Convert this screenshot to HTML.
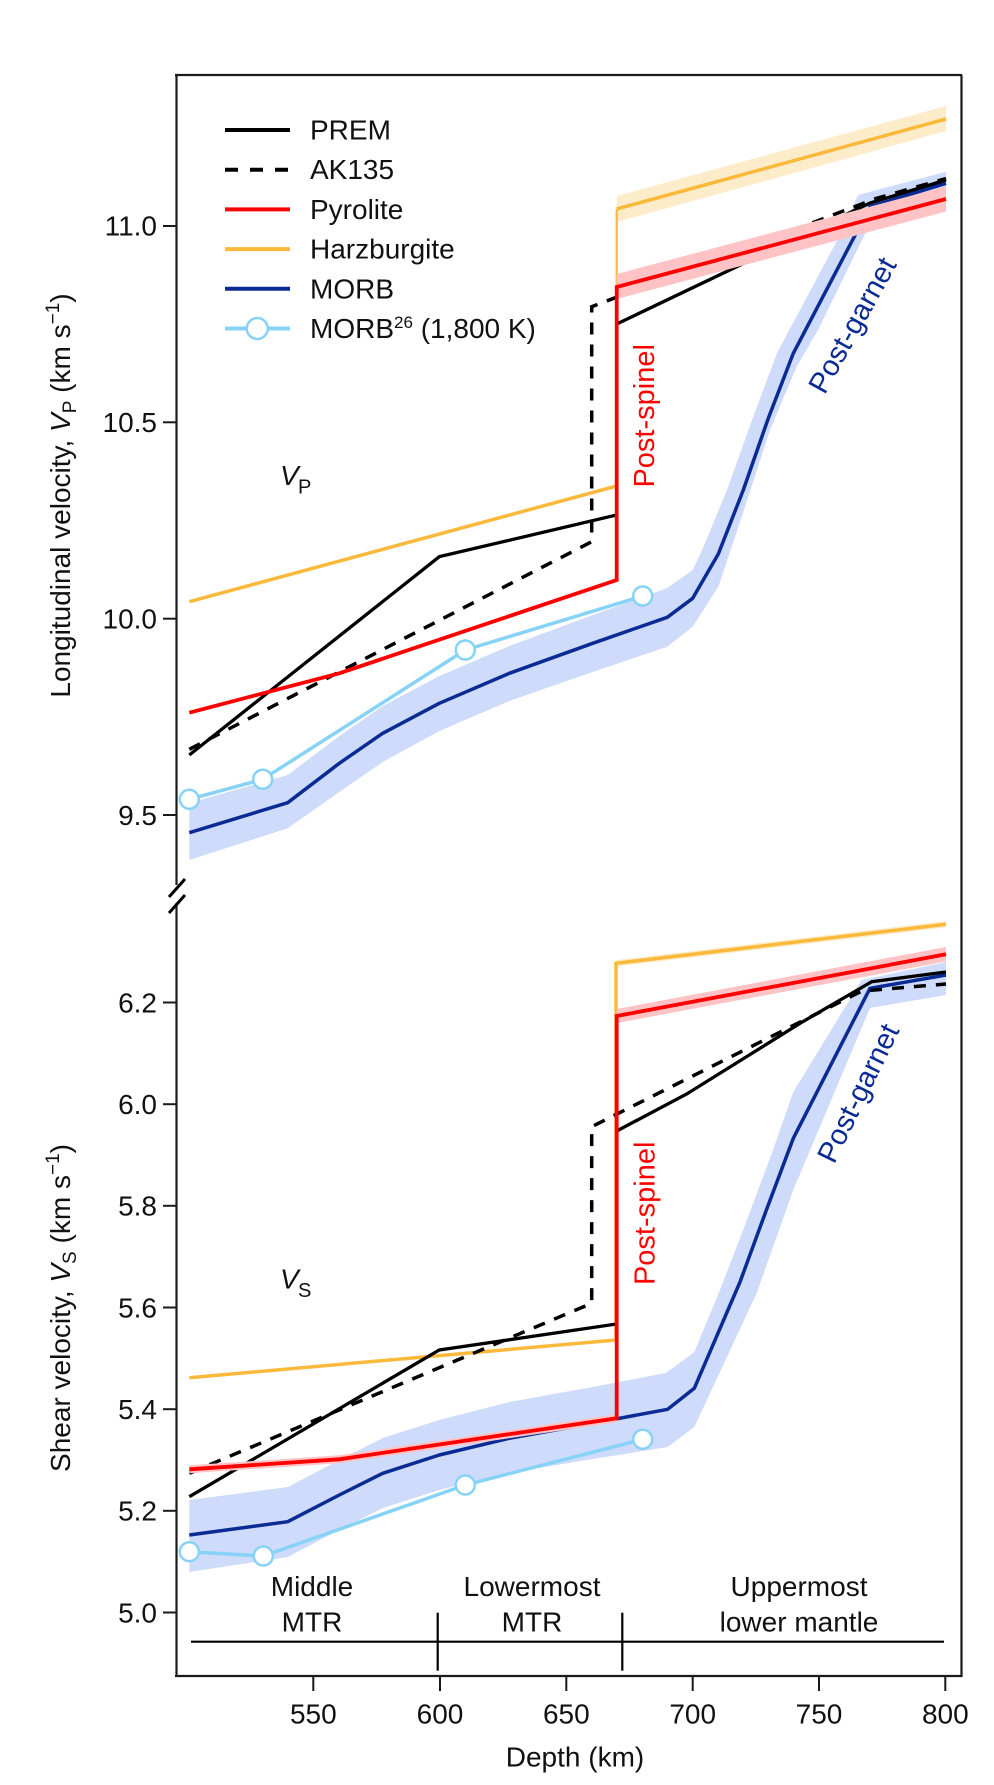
<!DOCTYPE html>
<html>
<head>
<meta charset="utf-8">
<style>
html,body{margin:0;padding:0;background:#fff;}
svg{display:block;}
text{font-family:"Liberation Sans", Arial, Helvetica, sans-serif;fill:#111;}
</style>
</head>
<body>
<svg width="994" height="1785" viewBox="0 0 994 1785" xmlns="http://www.w3.org/2000/svg">
<rect width="994" height="1785" fill="#fff"/>

<!-- ============ UPPER PANEL (Vp) ============ -->
<!-- MORB band -->
<polygon fill="#cfdbfa" points="189.3,803 287.7,775 339.3,736 382.7,706 439.3,676 509.3,646 592.7,615 667.3,588 692.7,570 703,548 727,490 752,420 777,353 808,295 840,235 858,195 946,171.7 946,195 880,218 866,232 818,330 796.7,366.7 770,430 743.3,512 718.3,586.7 692.7,626.7 667.3,646.7 592.7,672 509.3,701 439.3,731 382.7,762 339.3,792 287.7,828.3 189.3,860"/>
<!-- Harzburgite band -->
<polygon fill="#fdecc9" points="616.7,196 946,106 946,131 616.7,222"/>
<!-- Harzburgite -->
<polyline fill="none" stroke="#fbb93c" stroke-width="3.5" points="189.3,601.7 616.7,486"/>
<line x1="616.7" y1="486" x2="616.7" y2="209" stroke="#fbb93c" stroke-width="2.2"/>
<polyline fill="none" stroke="#fbb93c" stroke-width="3.5" points="616.7,209 946,119"/>
<!-- MORB26 -->
<polyline fill="none" stroke="#86d3f7" stroke-width="3.5" points="189.3,799.3 262.7,779.3 465.3,650 642.7,596"/>
<!-- MORB -->
<polyline fill="none" stroke="#0a2a94" stroke-width="3.5" stroke-linejoin="round" points="189.3,832.7 287.7,802.7 339.3,763.3 382.7,733.3 439.3,703.3 509.3,673.3 592.7,643.3 667.3,617.3 692.7,598.3 718.3,554 743.3,490 768.3,418.3 793.3,353.3 870,206.7 946,183.3"/>
<!-- PREM -->
<polyline fill="none" stroke="#000" stroke-width="3.3" points="189.3,755 439.3,556.7 616.7,515 616.7,324 870,203 946,180"/>
<!-- AK135 -->
<polyline fill="none" stroke="#000" stroke-width="3.5" stroke-dasharray="12 10" points="189.3,749.3 591.7,541.7 591.7,306.7 876.7,198.3 946,178.5"/>
<!-- Pyrolite band -->
<polygon fill="#ffc3c5" points="616.7,274 946,186.5 946,211.5 616.7,299"/>
<!-- Pyrolite -->
<polyline fill="none" stroke="#ff0000" stroke-width="3.8" points="189.3,712.7 339.3,673.3 616.7,580 616.7,287 946,199"/>
<!-- MORB26 circles -->
<g fill="#fff" stroke="#86d3f7" stroke-width="2.5">
<circle cx="189.3" cy="799.3" r="9.5"/>
<circle cx="262.7" cy="779.3" r="9.5"/>
<circle cx="465.3" cy="650" r="9.5"/>
<circle cx="642.7" cy="596" r="9.5"/>
</g>

<!-- ============ LOWER PANEL (Vs) ============ -->
<!-- MORB band -->
<polygon fill="#cfdbfa" points="189.3,1500 287.7,1487 339.3,1460 382.7,1438 439.3,1420 509.3,1402 592.7,1387 666,1373 694.3,1352 720,1290 745,1225 773,1150 793.3,1092 861.7,980 946,962 946,995 870,1008 793.3,1190 756.7,1293 720,1372 694.3,1427 667.7,1447 592.7,1459 509.3,1473 439.3,1490 382.7,1508 339.3,1530 287.7,1557 189.3,1572"/>
<!-- Harzburgite band -->
<polygon fill="#fdecc9" points="616,960 946,921 946,927.5 616,966.5"/>
<!-- Harzburgite -->
<polyline fill="none" stroke="#fbb93c" stroke-width="3.5" points="189.3,1377.7 616,1340 616,963.3 946,924.3"/>
<!-- MORB26 -->
<polyline fill="none" stroke="#86d3f7" stroke-width="3.5" points="189.3,1551.7 263.3,1556 465.3,1485 642.7,1439.3"/>
<!-- MORB -->
<polyline fill="none" stroke="#0a2a94" stroke-width="3.5" stroke-linejoin="round" points="189.3,1535 287.7,1521.7 339.3,1495 382.7,1473.3 439.3,1455 509.3,1438.3 592.7,1423.3 667.7,1409.3 694.3,1388.3 740,1282 766,1211 793.3,1138.3 870,988.3 946,975"/>
<!-- PREM -->
<polyline fill="none" stroke="#000" stroke-width="3.3" points="189.3,1496.7 439.3,1350 616.7,1324 616.7,1131 686.7,1094 800,1023.3 871.7,981.7 946,972"/>
<!-- AK135 -->
<polyline fill="none" stroke="#000" stroke-width="3.5" stroke-dasharray="12 10" points="189.3,1473.3 591.7,1303.3 591.7,1126.7 862,991 946,984"/>
<!-- Pyrolite band -->
<polygon fill="#ffc3c5" points="616.7,1009 946,947 946,961.5 616.7,1023"/>
<polygon fill="#ffc3c5" points="189.3,1465.3 339.3,1455.3 616.7,1414.3 616.7,1422.3 339.3,1463.3 189.3,1473.3"/>
<!-- Pyrolite -->
<polyline fill="none" stroke="#ff0000" stroke-width="3.8" points="189.3,1469.3 339.3,1459.3 616.7,1418.3 616.7,1016 946,954.3"/>
<!-- MORB26 circles -->
<g fill="#fff" stroke="#86d3f7" stroke-width="2.5">
<circle cx="189.3" cy="1551.7" r="9.5"/>
<circle cx="263.3" cy="1556" r="9.5"/>
<circle cx="465.3" cy="1485" r="9.5"/>
<circle cx="642.7" cy="1439.3" r="9.5"/>
</g>

<!-- ============ AXES ============ -->
<g stroke="#1a1a1a" stroke-width="2.2" fill="none">
<line x1="175" y1="75" x2="962" y2="75"/>
<line x1="961.5" y1="75" x2="961.5" y2="1677"/>
<line x1="176.5" y1="75" x2="176.5" y2="885"/>
<line x1="176.5" y1="903" x2="176.5" y2="1677"/>
<line x1="175" y1="1676" x2="962" y2="1676"/>
</g>
<!-- break marks -->
<g stroke="#000" stroke-width="3">
<line x1="169" y1="897" x2="185" y2="879"/>
<line x1="169" y1="913" x2="185" y2="895"/>
</g>
<!-- y ticks -->
<g stroke="#1a1a1a" stroke-width="2">
<line x1="163" y1="226" x2="176" y2="226"/>
<line x1="163" y1="422.3" x2="176" y2="422.3"/>
<line x1="163" y1="618.7" x2="176" y2="618.7"/>
<line x1="163" y1="815" x2="176" y2="815"/>
<line x1="163" y1="1002.5" x2="176" y2="1002.5"/>
<line x1="163" y1="1104.2" x2="176" y2="1104.2"/>
<line x1="163" y1="1205.8" x2="176" y2="1205.8"/>
<line x1="163" y1="1307.5" x2="176" y2="1307.5"/>
<line x1="163" y1="1409.2" x2="176" y2="1409.2"/>
<line x1="163" y1="1510.8" x2="176" y2="1510.8"/>
<line x1="163" y1="1612.5" x2="176" y2="1612.5"/>
</g>
<g font-size="28" text-anchor="end">
<text x="157" y="235.5">11.0</text>
<text x="157" y="432">10.5</text>
<text x="157" y="628.5">10.0</text>
<text x="157" y="825">9.5</text>
<text x="157" y="1012.5">6.2</text>
<text x="157" y="1114">6.0</text>
<text x="157" y="1215.5">5.8</text>
<text x="157" y="1317.5">5.6</text>
<text x="157" y="1419">5.4</text>
<text x="157" y="1520.5">5.2</text>
<text x="157" y="1622.5">5.0</text>
</g>
<!-- x ticks -->
<g stroke="#1a1a1a" stroke-width="2">
<line x1="313.3" y1="1676" x2="313.3" y2="1691"/>
<line x1="440" y1="1676" x2="440" y2="1691"/>
<line x1="566.3" y1="1676" x2="566.3" y2="1691"/>
<line x1="692.7" y1="1676" x2="692.7" y2="1691"/>
<line x1="819" y1="1676" x2="819" y2="1691"/>
<line x1="945.3" y1="1676" x2="945.3" y2="1691"/>
</g>
<g font-size="28" text-anchor="middle">
<text x="313.3" y="1723.3">550</text>
<text x="440" y="1723.3">600</text>
<text x="566.3" y="1723.3">650</text>
<text x="692.7" y="1723.3">700</text>
<text x="819" y="1723.3">750</text>
<text x="945.3" y="1723.3">800</text>
<text x="575" y="1766.5">Depth (km)</text>
</g>

<!-- axis labels -->
<text transform="translate(70,495.5) rotate(-90)" text-anchor="middle" font-size="28">Longitudinal velocity, <tspan font-style="italic">V</tspan><tspan font-size="19" dy="6">P</tspan><tspan dy="-6"> (km s</tspan><tspan font-size="19" dy="-11">−1</tspan><tspan dy="11">)</tspan></text>
<text transform="translate(70,1308) rotate(-90)" text-anchor="middle" font-size="28">Shear velocity, <tspan font-style="italic">V</tspan><tspan font-size="19" dy="6">S</tspan><tspan dy="-6"> (km s</tspan><tspan font-size="19" dy="-11">−1</tspan><tspan dy="11">)</tspan></text>

<!-- panel labels -->
<text x="280" y="485" font-size="28" font-style="italic">V</text>
<text x="298" y="493.5" font-size="20">P</text>
<text x="280" y="1288.5" font-size="28" font-style="italic">V</text>
<text x="298" y="1297" font-size="20">S</text>

<!-- Post-spinel / Post-garnet -->
<text transform="translate(654,415.8) rotate(-90)" text-anchor="middle" font-size="29" style="fill:#ff0000">Post-spinel</text>
<text transform="translate(654.5,1213.3) rotate(-90)" text-anchor="middle" font-size="29" style="fill:#ff0000">Post-spinel</text>
<text transform="translate(861,330) rotate(-61)" text-anchor="middle" font-size="29" style="fill:#0a2a94">Post-garnet</text>
<text transform="translate(867,1097.5) rotate(-64)" text-anchor="middle" font-size="29" style="fill:#0a2a94">Post-garnet</text>

<!-- region annotation -->
<g stroke="#000" stroke-width="2.2">
<line x1="191" y1="1641.7" x2="944" y2="1641.7"/>
<line x1="437.7" y1="1612.7" x2="437.7" y2="1670.7"/>
<line x1="622.3" y1="1612.7" x2="622.3" y2="1670.7"/>
</g>
<g font-size="28" text-anchor="middle">
<text x="312" y="1596">Middle</text>
<text x="312" y="1631.7">MTR</text>
<text x="532" y="1596">Lowermost</text>
<text x="532" y="1631.7">MTR</text>
<text x="799" y="1596">Uppermost</text>
<text x="799" y="1631.7">lower mantle</text>
</g>

<!-- legend -->
<g stroke-width="4">
<line x1="225" y1="130" x2="290" y2="130" stroke="#000"/>
<line x1="225" y1="169.7" x2="290" y2="169.7" stroke="#000" stroke-dasharray="13 12"/>
<line x1="225" y1="209.4" x2="290" y2="209.4" stroke="#ff0000"/>
<line x1="225" y1="249.1" x2="290" y2="249.1" stroke="#fbb93c"/>
<line x1="225" y1="288.8" x2="290" y2="288.8" stroke="#0a2a94"/>
<line x1="225" y1="328.5" x2="290" y2="328.5" stroke="#86d3f7"/>
</g>
<circle cx="257.3" cy="328.5" r="10.5" fill="#fff" stroke="#86d3f7" stroke-width="2.5"/>
<g font-size="28">
<text x="310" y="139.5">PREM</text>
<text x="310" y="179.2">AK135</text>
<text x="310" y="218.9">Pyrolite</text>
<text x="310" y="258.6">Harzburgite</text>
<text x="310" y="298.3">MORB</text>
<text x="310" y="338">MORB<tspan font-size="17" dy="-10">26</tspan><tspan dy="10"> (1,800 K)</tspan></text>
</g>
</svg>
</body>
</html>
